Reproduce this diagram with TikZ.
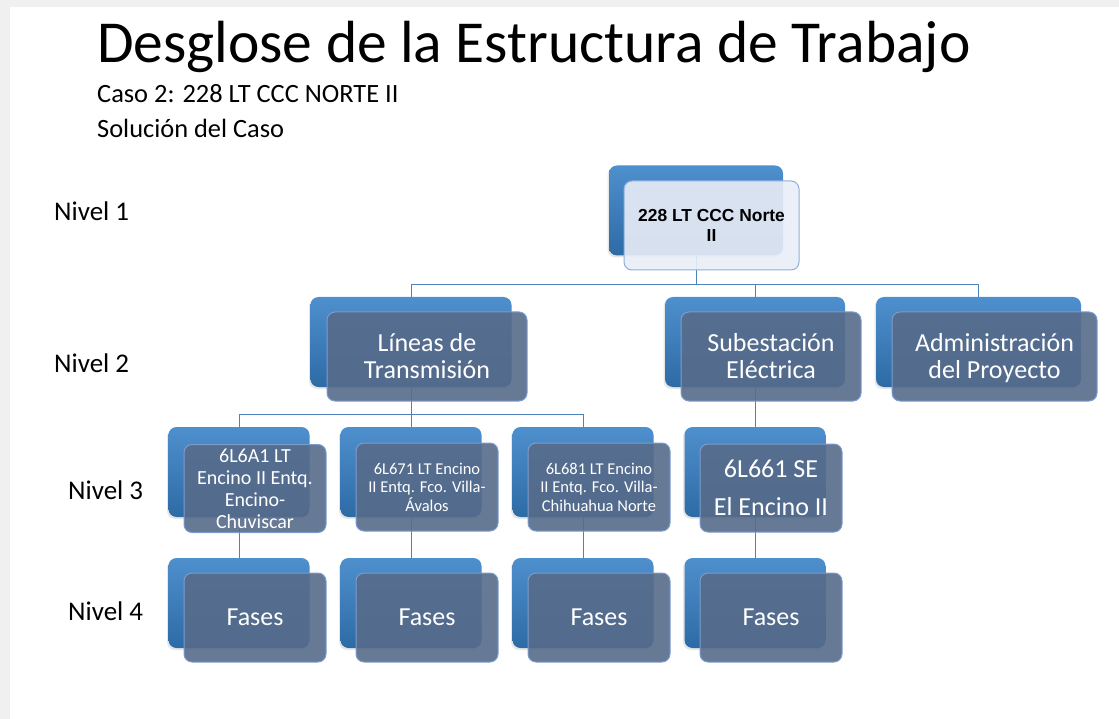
\documentclass[tikz,border=0pt]{standalone}
\usepackage{fontspec}
\setmainfont{Carlito}
\newfontfamily\arialfont{Liberation Sans}
\usetikzlibrary{backgrounds,shadows}
\definecolor{wbsline}{RGB}{79,129,189}
\definecolor{wbstop}{RGB}{78,143,205}
\definecolor{wbsbot}{RGB}{45,107,165}
\definecolor{wbsfront}{RGB}{87,107,138}
\definecolor{wbsedge}{RGB}{125,155,205}
\definecolor{rootfill}{RGB}{233,237,246}
\definecolor{rootedge}{RGB}{140,175,220}
\definecolor{slideedge}{RGB}{240,240,240}
\begin{document}
\begin{tikzpicture}[x=1pt, y=-1pt, line join=round,
  back/.style={rounded corners=8pt, inner sep=0pt, minimum height=90pt, top color=wbstop, bottom color=wbsbot, drop shadow={shadow xshift=-1.5pt, shadow yshift=-2pt, opacity=.2}},
  front/.style={rounded corners=8pt, inner sep=1pt, minimum height=89pt, fill=wbsfront, fill opacity=.9, text opacity=1, draw=wbsedge, line width=1pt, text=white, align=center},
  conn/.style={draw=wbsline, line width=1pt},
  titletext/.style={anchor=base west, inner sep=0pt}]
	\useasboundingbox (0,0) rectangle (1119,719);
	\fill[slideedge] (0,0) rectangle (1119,7);
	\fill[slideedge] (0,0) rectangle (10,719);
	\node[titletext, font=\fontsize{59.5}{60}\selectfont] (titulo) at (97,63) {Desglose de la Estructura de Trabajo};
	\node[titletext, font=\fontsize{26.4}{28}\selectfont] (caso) at (97,103) {Caso 2: 228 LT CCC NORTE II};
	\node[titletext, font=\fontsize{26.4}{28}\selectfont] (sol) at (97,138) {Solución del Caso};
	\node[titletext, font=\fontsize{27}{28}\selectfont] (n1) at (54,221) {Nivel 1};
	\node[titletext, font=\fontsize{27}{28}\selectfont] (n2) at (54,372) {Nivel 2};
	\node[titletext, font=\fontsize{27}{28}\selectfont] (n3) at (68,499) {Nivel 3};
	\node[titletext, font=\fontsize{27}{28}\selectfont] (n4) at (68,620) {Nivel 4};
	% nivel 1
	\node[back, minimum width=174pt] (raiz-b) at (696,210.5) {};
	\node[front, minimum width=175pt, fill=rootfill, draw=rootedge, text=black, font=\arialfont\bfseries\fontsize{17.4}{19.5}\selectfont] (raiz) at (711.5,225.5) {228 LT CCC Norte\\II};
	% nivel 2
	\node[back, minimum width=201pt] (lt-b) at (411,342) {};
	\node[front, minimum width=200pt, font=\fontsize{26}{27}\selectfont] (lt) at (427,356.5) {Líneas de\\Transmisión};
	\node[back, minimum width=180pt] (se-b) at (755,342) {};
	\node[front, minimum width=180pt, font=\fontsize{26}{27}\selectfont] (se) at (771,356.5) {Subestación\\Eléctrica};
	\node[back, minimum width=205pt] (adm-b) at (978.5,342) {};
	\node[front, minimum width=205pt, font=\fontsize{26}{27}\selectfont] (adm) at (994.5,356.5) {Administración\\del Pro\smash{y}ecto};
	% nivel 3
	\node[back, minimum width=141pt] (c1-b) at (239,472) {};
	\node[front, minimum width=142pt, minimum height=88pt, font=\fontsize{20}{22}\selectfont] (c1) at (255,488.5) {6L6A1 LT\\Encino II Entq.\\Encino-\\Chuviscar};
	\node[back, minimum width=141pt] (c2-b) at (411,472) {};
	\node[front, minimum width=142pt, minimum height=88pt, font=\fontsize{16.5}{18.5}\selectfont] (c2) at (427,487) {6L671 LT Encino\\II Entq. Fco. Villa-\\Ávalos};
	\node[back, minimum width=141pt] (c3-b) at (583,472) {};
	\node[front, minimum width=142pt, minimum height=88pt, font=\fontsize{16.5}{18.5}\selectfont] (c3) at (599,487) {6L681 LT Encino\\II Entq. Fco. Villa-\\Chihuahua Norte};
	\node[back, minimum width=141pt] (c4-b) at (755,472) {};
	\node[front, minimum width=142pt, minimum height=88pt, font=\fontsize{26}{38}\selectfont] (c4) at (771,488) {6L661 SE\\El Encino II};
	% nivel 4
	\foreach \i/\x in {1/239, 2/411, 3/583, 4/755} {
		\node[back, minimum width=141pt] (f\i-b) at (\x,603) {};
		\node[front, minimum width=142pt, font=\fontsize{26}{27}\selectfont] (f\i) at (\x+16,617.5) {Fases};
	}
	\begin{scope}[on background layer]
		\draw[conn] (raiz-b.south) -- ++(0,29) coordinate (bus1);
		\draw[conn] (lt-b.north) |- (bus1) -| (adm-b.north);
		\draw[conn] (bus1 -| se-b.north) -- (se-b.north);
		\draw[conn] (lt-b.south) -- ++(0,27) coordinate (bus2);
		\draw[conn] (c1-b.north) |- (bus2) -| (c3-b.north);
		\draw[conn] (bus2 -| c2-b.north) -- (c2-b.north);
		\draw[conn] (se-b.south) -- (c4-b.north);
		\foreach \i in {1,...,4} \draw[conn] (c\i-b.south) -- (f\i-b.north);
	\end{scope}
\end{tikzpicture}
\end{document}
